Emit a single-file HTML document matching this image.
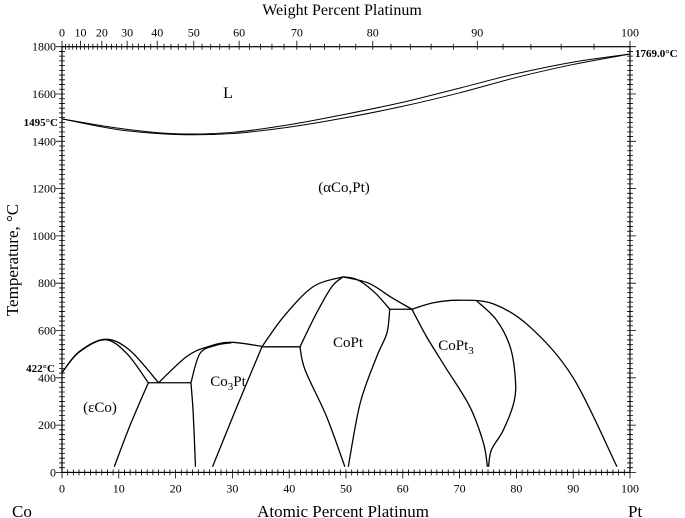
<!DOCTYPE html>
<html><head><meta charset="utf-8"><style>
html,body{margin:0;padding:0;background:#fff}
svg{display:block;font-family:"Liberation Serif",serif}
</style></head><body>
<svg id="chart" width="685" height="518" viewBox="0 0 685 518" xmlns="http://www.w3.org/2000/svg"></svg>
<script>
const xTicks=[0,10,20,30,40,50,60,70,80,90,100];
const yTicks=[0,200,400,600,800,1000,1200,1400,1600,1800];
const wtTicks=[0,10,20,30,40,50,60,70,80,90,100];
const liquidus=[[0,1495],[10,1455],[20,1432],[30,1438],[40,1470],[50,1515],[60,1565],[70,1625],[80,1686],[90,1735],[100,1769]];
const solidus=[[0,1495],[10,1449],[20,1429],[30,1433],[40,1460],[50,1500],[60,1548],[70,1605],[80,1670],[90,1725],[100,1769]];
const epsDomeOuter=[[0,422],[3,510],[7.6,563],[11.9,517],[17,379]];
const epsDomeInner=[[0,422],[3,508],[7.6,561],[11.4,503],[15.2,379]];
const epsBoundary=[[15.2,379],[12,200],[9.2,24]];
const co3ptOuter=[[17,379],[21.9,489],[25.5,530],[29.6,550],[35.2,533]];
const co3ptInner=[[22.7,379],[24.3,503],[27.2,538],[29.8,548]];
const co3ptLeft=[[22.7,379],[23.1,250],[23.5,24]];
const co3ptRight=[[26.5,24],[30.8,278],[35.2,531]];
const coptOuterLeft=[[35.2,531],[39,658],[44.2,785],[49.5,827]];
const coptInnerLeft=[[41.9,531],[44.8,673],[47.5,785],[49.5,827]];
const coptLeft=[[41.9,531],[42.8,433],[46.6,235],[49.8,24]];
const coptRight=[[57.7,690],[57.2,589],[55.4,489],[52.5,293],[50.4,24]];
const coptOuterRight=[[49.5,827],[54,800],[58,740],[61.6,690]];
const coptInnerRight=[[49.5,827],[52,815],[55,762],[57.7,690]];
const copt3Left=[[61.6,690],[64.2,573],[67.5,445],[71.8,278],[74.2,124],[74.9,24]];
const copt3Outer=[[61.6,690],[65.5,718],[70.1,728],[76,712],[82.4,615],[90,400],[97.7,24]];
const copt3Inner=[[73,725],[76.5,644],[78.9,531],[79.8,400],[79.6,300],[77.7,179],[75.6,95],[75.1,24]];
const eutectoidLine=[[15.2,379],[22.7,379]];
const line531=[[35.2,531],[41.9,531]];
const line690=[[57.7,690],[61.6,690]];

const X0=62,X1=630,Y0=472.4,Y1=46.7;
const sx=a=>X0+(X1-X0)*a/100;
const sy=t=>Y0-(Y0-Y1)*t/1800;
const wt2at=w=>{if(w>=100)return 100;const p=w/195.08,c=(100-w)/58.93;return 100*p/(p+c);};
const NS="http://www.w3.org/2000/svg";
const svg=document.getElementById('chart');
function mk(tag,attrs,parent){const e=document.createElementNS(NS,tag);for(const k in attrs)e.setAttribute(k,attrs[k]);(parent||svg).appendChild(e);return e;}
function smooth(pts){const p=pts.map(q=>[sx(q[0]),sy(q[1])]);let d=`M${p[0][0]},${p[0][1]}`;
 for(let i=0;i<p.length-1;i++){const a=p[Math.max(i-1,0)],b=p[i],c=p[i+1],e=p[Math.min(i+2,p.length-1)];
 d+=` C${b[0]+(c[0]-a[0])/6},${b[1]+(c[1]-a[1])/6} ${c[0]-(e[0]-b[0])/6},${c[1]-(e[1]-b[1])/6} ${c[0]},${c[1]}`;}return d;}

const frame=mk('rect',{x:X0,y:Y1,width:X1-X0,height:Y0-Y1,fill:'none',stroke:'#000','stroke-width':1.2});


let tk='';
for(let a=0;a<=100;a++){const x=sx(a),L=a%10===0?6:3;tk+=`M${x},${Y0}v${L}M${x},${Y0}v-3`;}
for(let t=0;t<=1800;t+=20){const y=sy(t),L=t%200===0?6:3;tk+=`M${X0},${y}h-${L}M${X0},${y}h3M${X1},${y}h-3M${X1},${y}h${t%200===0?6:3}`;}
for(let w=0;w<=100;w+=2){const x=sx(wt2at(w));tk+=`M${x},${Y1}v${w%10===0?-6:-3}M${x},${Y1}v3`;}
const ticks=mk('path',{d:tk,stroke:'#000','stroke-width':0.8,fill:'none'});


xTicks.forEach(v=>{const t=mk('text',{x:sx(v),y:Y0+20,'font-size':12,'text-anchor':'middle'});t.textContent=v;

});
yTicks.forEach(v=>{const t=mk('text',{x:X0-6,y:sy(v)+4,'font-size':12,'text-anchor':'end'});t.textContent=v;

});
wtTicks.forEach(v=>{const t=mk('text',{x:sx(wt2at(v)),y:Y1-10,'font-size':12,'text-anchor':'middle'});t.textContent=v;

});
[liquidus,solidus,epsDomeOuter,epsDomeInner,epsBoundary,co3ptOuter,co3ptInner,co3ptLeft,co3ptRight,coptOuterLeft,coptInnerLeft,coptLeft,coptRight,coptOuterRight,coptInnerRight,copt3Left,copt3Outer,copt3Inner,eutectoidLine,line531,line690].forEach((c,i)=>{
 const p=mk('path',{d:smooth(c),fill:'none',stroke:'#000','stroke-width':i<2?1:1.3});
 
 
});
function txt(name,x,y,s,html,extra){const t=mk('text',Object.assign({x:x,y:y,'font-size':s},extra||{}));t.innerHTML=html;
 
 return t;}
txt('top-axis-title',342,15,16,'Weight Percent Platinum',{'text-anchor':'middle'});
txt('x-axis-title',343,517,17,'Atomic Percent Platinum',{'text-anchor':'middle'});
txt('co-label',12,517,17,'Co');
txt('pt-label',628,517,17,'Pt');
txt('y-axis-title',18,260,17,'Temperature, °C',{'text-anchor':'middle',transform:'rotate(-90 18 260)'});
txt('co-melting-label',58,126,11,'1495°C',{'text-anchor':'end','font-weight':'bold'});
txt('pt-melting-label',635,57,11,'1769.0°C',{'font-weight':'bold'});
txt('transition-label',55,372,11,'422°C',{'text-anchor':'end','font-weight':'bold'});
txt('liquid-label',228,98,16,'L',{'text-anchor':'middle'});
txt('alpha-phase-label',344,192,15,'(αCo,Pt)',{'text-anchor':'middle'});
txt('eps-phase-label',100,412,15,'(εCo)',{'text-anchor':'middle'});
txt('co3pt-label',228,386,15,'Co<tspan font-size="11" dy="4">3</tspan><tspan dy="-4">Pt</tspan>',{'text-anchor':'middle'});
txt('copt-label',348,347,15,'CoPt',{'text-anchor':'middle'});
txt('copt3-label',456,350,15,'CoPt<tspan font-size="11" dy="4">3</tspan>',{'text-anchor':'middle'});
</script>
</body></html>
